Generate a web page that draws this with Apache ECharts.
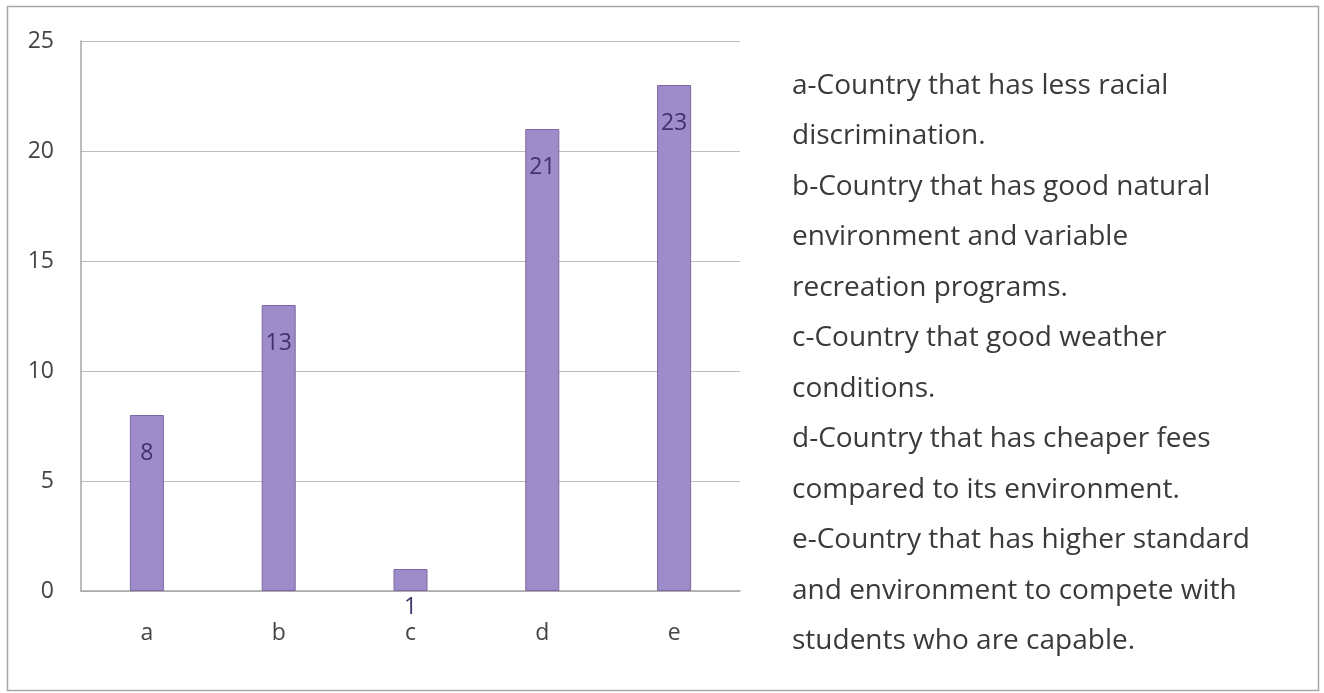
<!DOCTYPE html>
<html>
<head>
<meta charset="utf-8">
<script src="https://cdn.jsdelivr.net/npm/echarts@6/dist/echarts.min.js"></script>
<style>
html,body{margin:0;padding:0;background:#fff;}
#chart{width:1324px;height:693px;}
</style>
</head>
<body>
<div id="chart"></div>
<script>
const categories = ['a', 'b', 'c', 'd', 'e'];
const values = [8, 13, 1, 21, 23];
const yTicks = [0, 5, 10, 15, 20, 25];
const legendLines = [
  'a-Country that has less racial',
  'discrimination.',
  'b-Country that has good natural',
  'environment and variable',
  'recreation programs.',
  'c-Country that good weather',
  'conditions.',
  'd-Country that has cheaper fees',
  'compared to its environment.',
  'e-Country that has higher standard',
  'and environment to compete with',
  'students who are capable.'
];

const FONT = '"Open Sans", "Noto Sans", sans-serif';
const chart = echarts.init(document.getElementById('chart'), null, {renderer: 'canvas'});

const graphics = [{
  type: 'rect',
  shape: {x: 7.5, y: 6.5, width: 1311, height: 684},
  style: {fill: 'none', stroke: '#a6a6a6', lineWidth: 1.5},
  silent: true
}];
legendLines.forEach((t, i) => {
  graphics.push({
    type: 'text',
    left: 792,
    top: 84 + i * 50.5 - 12,
    style: {text: t, font: '28px ' + FONT, fill: '#3a3a3a'},
    silent: true
  });
});

chart.setOption({
  animation: false,
  backgroundColor: '#ffffff',
  grid: {left: 81, top: 41, width: 659, height: 550, containLabel: false},
  xAxis: {
    type: 'category',
    data: categories,
    axisLine: {show: true, lineStyle: {color: '#a6a6a6', width: 1.5}},
    axisTick: {show: false},
    axisLabel: {color: '#444', fontSize: 23, fontFamily: FONT, margin: 31}
  },
  yAxis: {
    type: 'value',
    min: yTicks[0],
    max: yTicks[yTicks.length - 1],
    interval: yTicks[1] - yTicks[0],
    axisLine: {show: true, lineStyle: {color: '#a6a6a6', width: 1.5}},
    axisTick: {show: false},
    splitLine: {lineStyle: {color: '#bdbdbd', width: 1.2}},
    axisLabel: {color: '#444', fontSize: 23, fontFamily: FONT, margin: 27}
  },
  series: [{
    type: 'bar',
    data: values,
    barWidth: 34,
    itemStyle: {color: '#9d8bca', borderColor: '#7a68a6', borderWidth: 1},
    label: {
      show: true,
      position: 'insideTop',
      distance: 27,
      color: '#3f3270',
      fontSize: 23,
      fontFamily: FONT
    }
  }],
  graphic: graphics
});
</script>
</body>
</html>
